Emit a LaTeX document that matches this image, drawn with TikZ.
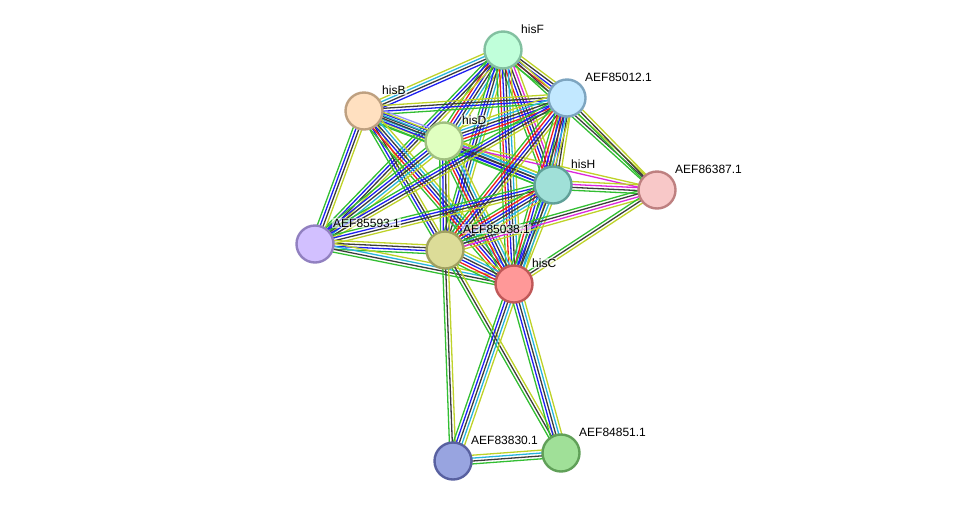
\documentclass[tikz,border=0pt]{standalone}
\usepackage{fontspec}
\setmainfont{Liberation Sans}
\usepackage{tikz}
\usetikzlibrary{calc, positioning}

\pgfdeclarelayer{background}
\pgfsetlayers{background,main}

\definecolor{sgrn}{RGB}{50,190,50}
\definecolor{sblue}{RGB}{30,30,240}
\definecolor{sblk}{RGB}{60,60,60}
\definecolor{scyan}{RGB}{40,180,220}
\definecolor{syel}{RGB}{190,210,40}
\definecolor{sred}{RGB}{240,30,30}
\definecolor{smag}{RGB}{220,40,220}
\definecolor{slil}{RGB}{150,150,250}

% bundle of parallel lines between two nodes
\newcommand{\strlink}[3]{%
  \foreach \c [count=\i] in {#3} {\xdef\nlines{\i}}
  \foreach \c [count=\i] in {#3} {
    \pgfmathsetmacro\off{(\i-(\nlines+1)/2)*2.9}
    \draw[\c, line width=1.3pt] ($(#1)!\off pt!90:(#2)$) -- ($(#2)!\off pt!-90:(#1)$);
  }
}

\begin{document}
\begin{tikzpicture}[x=1pt, y=-1pt,
    prot/.style={circle, minimum size=37pt, inner sep=0pt, line width=2.4pt},
    lbl/.style={anchor=west, font=\fontsize{12}{14}\selectfont, inner sep=1pt,
                fill=white, fill opacity=0.6, text opacity=1}]
    \useasboundingbox (0,0) rectangle (976,507);

    % proteins
    \node[prot, fill={rgb,255:red,192;green,255;blue,218}, draw={rgb,255:red,130;green,192;blue,160}] (hisF) at (503,50) {};
    \node[prot, fill={rgb,255:red,194;green,232;blue,255}, draw={rgb,255:red,125;green,165;blue,192}] (e5012) at (567,98) {};
    \node[prot, fill={rgb,255:red,255;green,224;blue,192}, draw={rgb,255:red,190;green,160;blue,128}] (hisB) at (364,111) {};
    \node[prot, fill={rgb,255:red,224;green,255;blue,192}, draw={rgb,255:red,160;green,192;blue,128}] (hisD) at (444,141) {};
    \node[prot, fill={rgb,255:red,160;green,224;blue,216}, draw={rgb,255:red,96;green,160;blue,152}] (hisH) at (553,185) {};
    \node[prot, fill={rgb,255:red,248;green,200;blue,200}, draw={rgb,255:red,190;green,128;blue,128}] (e6387) at (657,190) {};
    \node[prot, fill={rgb,255:red,210;green,192;blue,255}, draw={rgb,255:red,145;green,128;blue,192}] (e5593) at (315,244) {};
    \node[prot, fill={rgb,255:red,220;green,220;blue,152}, draw={rgb,255:red,160;green,160;blue,96}] (e5038) at (445,250) {};
    \node[prot, fill={rgb,255:red,255;green,152;blue,152}, draw={rgb,255:red,192;green,88;blue,88}] (hisC) at (514,284) {};
    \node[prot, fill={rgb,255:red,152;green,164;blue,224}, draw={rgb,255:red,88;green,96;blue,160}] (e3830) at (453,461) {};
    \node[prot, fill={rgb,255:red,160;green,224;blue,152}, draw={rgb,255:red,96;green,160;blue,88}] (e4851) at (561,453) {};

    % names
    \node[lbl] (hisF-l)  at ([shift={(17,-21)}]hisF.center)  {hisF};
    \node[lbl] (e5012-l) at ([shift={(17,-21)}]e5012.center) {AEF85012.1};
    \node[lbl] (hisB-l)  at ([shift={(17,-21)}]hisB.center)  {hisB};
    \node[lbl] (hisD-l)  at ([shift={(17,-21)}]hisD.center)  {hisD};
    \node[lbl] (hisH-l)  at ([shift={(17,-21)}]hisH.center)  {hisH};
    \node[lbl] (e6387-l) at ([shift={(17,-21)}]e6387.center) {AEF86387.1};
    \node[lbl] (e5593-l) at ([shift={(17,-21)}]e5593.center) {AEF85593.1};
    \node[lbl] (e5038-l) at ([shift={(17,-21)}]e5038.center) {AEF85038.1};
    \node[lbl] (hisC-l)  at ([shift={(17,-21)}]hisC.center)  {hisC};
    \node[lbl] (e3830-l) at ([shift={(17,-21)}]e3830.center) {AEF83830.1};
    \node[lbl] (e4851-l) at ([shift={(17,-21)}]e4851.center) {AEF84851.1};

    % links
    \begin{pgfonlayer}{background}
    \strlink{hisF}{hisB}{syel,scyan,sblk,sblue}
    \strlink{hisF}{e5012}{sgrn,sred,sblue,sblk,syel}
    \strlink{hisF}{hisD}{sgrn,sred,sblue,sblk,scyan,syel}
    \strlink{hisF}{hisH}{sgrn,sred,sblue,sblk,smag,syel}
    \strlink{hisF}{e6387}{sgrn,sblk,syel}
    \strlink{hisF}{e5593}{sgrn,sblue,sblk,syel}
    \strlink{hisF}{e5038}{sgrn,sblue,sblk,scyan,syel}
    \strlink{hisF}{hisC}{sgrn,sred,sblue,sblk,scyan,syel}

    \strlink{hisB}{e5012}{sgrn,sblue,sblk,syel}
    \strlink{hisB}{hisD}{sgrn,syel,scyan,sblk,sblue,slil}
    \strlink{hisB}{hisH}{sgrn,sblue,sblk,scyan,syel}
    \strlink{hisB}{e5593}{sgrn,sblue,sblk,syel}
    \strlink{hisB}{e5038}{sgrn,sblue,sblk,syel}
    \strlink{hisB}{hisC}{sgrn,sred,sblue,sblk,scyan,syel}

    \strlink{hisD}{e5012}{sgrn,sred,sblue,sblk,scyan,syel}
    \strlink{hisD}{hisH}{sgrn,sblue,sblk,scyan,syel}
    \strlink{hisD}{e6387}{smag,syel}
    \strlink{hisD}{e5593}{sgrn,sblue,sblk,scyan,syel}
    \strlink{hisD}{e5038}{sgrn,sblue,sblk,syel}
    \strlink{hisD}{hisC}{sgrn,sred,sblue,sblk,scyan,syel}

    \strlink{e5012}{hisH}{sgrn,sred,sblue,sblk,syel}
    \strlink{e5012}{e6387}{sgrn,sblk,syel}
    \strlink{e5012}{e5593}{sgrn,sblue,sblk,syel}
    \strlink{e5012}{e5038}{sgrn,sred,sblue,sblk,syel}
    \strlink{e5012}{hisC}{sgrn,sred,sblue,sblk,scyan,syel}

    \strlink{hisH}{e6387}{sgrn,sblk,smag,syel}
    \strlink{hisH}{e5593}{sgrn,sblue,sblk,syel}
    \strlink{hisH}{e5038}{sgrn,sred,sblue,sblk,scyan,syel}
    \strlink{hisH}{hisC}{sgrn,sblue,sblk,scyan,syel}

    \strlink{e6387}{e5038}{sgrn,sblk,smag,syel}
    \strlink{e6387}{hisC}{sgrn,sblk,syel}

    \strlink{e5593}{e5038}{sgrn,sblue,sblk,syel}
    \strlink{e5593}{hisC}{sgrn,sblk,scyan,syel}

    \strlink{e5038}{hisC}{sgrn,sred,sblue,sblk,scyan,syel}
    \strlink{e5038}{e3830}{sgrn,sblk,syel}
    \strlink{e5038}{e4851}{sgrn,sblk,syel}

    \strlink{hisC}{e3830}{sgrn,sblue,sblk,scyan,syel}
    \strlink{hisC}{e4851}{sgrn,sblue,sblk,scyan,syel}
    \strlink{e3830}{e4851}{sgrn,sblk,scyan,syel}
    \end{pgfonlayer}
\end{tikzpicture}
\end{document}
